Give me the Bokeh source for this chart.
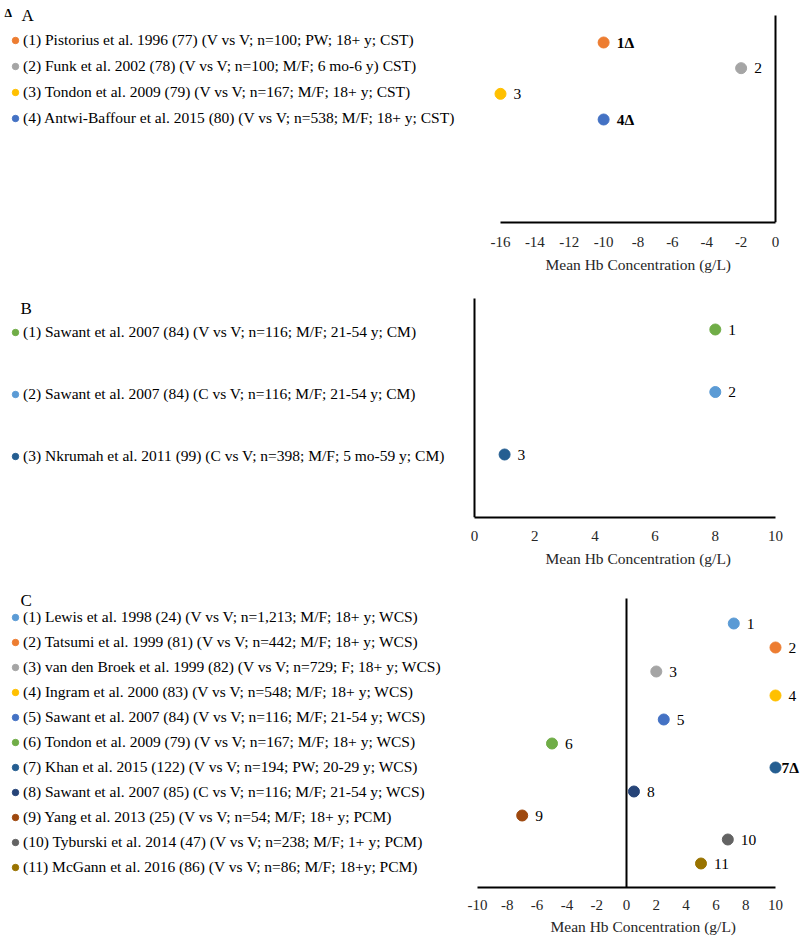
from bokeh.plotting import figure
from bokeh.models import (ColumnDataSource, Range1d, LinearAxis, Legend,
                          LegendItem, FixedTicker, Label, Title)
from bokeh.layouts import column
from bokeh.core.properties import value, field
from bokeh.embed import file_html
from bokeh.resources import INLINE

# ---------------- data ----------------
A_studies = [
    "(1) Pistorius et al. 1996 (77) (V vs V; n=100; PW; 18+ y; CST)",
    "(2) Funk et al. 2002 (78) (V vs V; n=100; M/F; 6 mo-6 y) CST)",
    "(3) Tondon et al. 2009 (79) (V vs V; n=167; M/F; 18+ y; CST)",
    "(4) Antwi-Baffour et al. 2015 (80) (V vs V; n=538; M/F; 18+ y; CST)",
]
A_values = [-10, -2, -16, -10]
A_labels = ["1Δ", "2", "3", "4Δ"]
A_colors = ["#ED7D31", "#A5A5A5", "#FFC000", "#4472C4"]
A_ticks = [-16, -14, -12, -10, -8, -6, -4, -2, 0]

B_studies = [
    "(1) Sawant et al. 2007 (84) (V vs V; n=116; M/F; 21-54 y; CM)",
    "(2) Sawant et al. 2007 (84) (C vs V; n=116; M/F; 21-54 y; CM)",
    "(3) Nkrumah et al. 2011 (99) (C vs V; n=398; M/F; 5 mo-59 y; CM)",
]
B_values = [8, 8, 1]
B_labels = ["1", "2", "3"]
B_colors = ["#70AD47", "#5B9BD5", "#255E91"]
B_ticks = [0, 2, 4, 6, 8, 10]

C_studies = [
    "(1) Lewis et al. 1998 (24) (V vs V; n=1,213; M/F; 18+ y; WCS)",
    "(2) Tatsumi et al. 1999 (81) (V vs V; n=442; M/F; 18+ y; WCS)",
    "(3) van den Broek et al. 1999 (82) (V vs V; n=729; F; 18+ y; WCS)",
    "(4) Ingram et al. 2000 (83) (V vs V; n=548; M/F; 18+ y; WCS)",
    "(5) Sawant et al. 2007 (84) (V vs V; n=116; M/F; 21-54 y; WCS)",
    "(6) Tondon et al. 2009 (79) (V vs V; n=167; M/F; 18+ y; WCS)",
    "(7) Khan et al. 2015 (122) (V vs V; n=194; PW; 20-29 y; WCS)",
    "(8) Sawant et al. 2007 (85) (C vs V; n=116; M/F; 21-54 y; WCS)",
    "(9) Yang et al. 2013 (25) (V vs V; n=54; M/F; 18+ y; PCM)",
    "(10) Tyburski et al. 2014 (47) (V vs V; n=238; M/F; 1+ y; PCM)",
    "(11) McGann et al. 2016 (86) (V vs V; n=86; M/F; 18+y; PCM)",
]
C_values = [7.2, 10, 2, 10, 2.5, -5, 10, 0.5, -7, 6.8, 5]
C_labels = ["1", "2", "3", "4", "5", "6", "7Δ", "8", "9", "10", "11"]
C_colors = ["#5B9BD5", "#ED7D31", "#A5A5A5", "#FFC000", "#4472C4", "#70AD47",
            "#255E91", "#264478", "#9E480E", "#636363", "#997300"]
C_ticks = [-10, -8, -6, -4, -2, 0, 2, 4, 6, 8, 10]

AXIS_TITLE = "Mean Hb Concentration (g/L)"
FONT = "Liberation Serif"
W = 800


def panel(studies, vals, labels, colors, ticks, xr, yr, vline_top, height,
          bottom, leg_loc, leg_spacing, major_standoff, title_standoff,
          title_offset, titles, edge_offset=13):
    rows = list(range(1, len(vals) + 1))
    styles = ["bold" if "Δ" in s else "normal" for s in labels]
    # a label squeezed against the right edge sits closer to its point
    dx = [edge_offset if (v == ticks[-1] and "Δ" in s) else 13
          for v, s in zip(vals, labels)]
    src = ColumnDataSource(dict(x=vals, y=rows, label=labels, color=colors,
                                style=styles, dx=dx))
    p = figure(width=W, height=height, x_range=Range1d(*xr),
               y_range=Range1d(*yr), output_backend="svg",
               toolbar_location=None, y_axis_location=None,
               min_border_left=0, min_border_right=0,
               min_border_top=0, min_border_bottom=bottom)
    p.outline_line_color = None
    p.grid.visible = False
    p.background_fill_color = "white"
    p.border_fill_color = "white"

    ax = p.xaxis[0]
    ax.bounds = (ticks[0], ticks[-1])
    ax.ticker = FixedTicker(ticks=ticks)
    ax.major_label_overrides = {t: str(t) for t in ticks}
    ax.minor_tick_line_color = None
    ax.major_tick_out = 0
    ax.major_tick_in = 0
    ax.axis_line_color = "black"
    ax.axis_line_width = 2
    ax.major_label_text_font = FONT
    ax.major_label_text_font_size = "15px"
    ax.major_label_text_color = "#262626"
    ax.major_label_standoff = major_standoff

    # axis title, centred under the plot area (not the whole canvas)
    p.add_layout(Title(text=AXIS_TITLE, align="left", offset=title_offset,
                       standoff=title_standoff, text_font=FONT,
                       text_font_size="15.5px", text_font_style="normal",
                       text_color="#262626"), "below")

    # vertical axis line at x = 0
    yax = LinearAxis(fixed_location=0, ticker=FixedTicker(ticks=[]),
                     bounds=(min(vline_top, yr[0]), max(vline_top, yr[0])),
                     axis_line_color="black", axis_line_width=2,
                     major_tick_line_color=None, minor_tick_line_color=None,
                     major_label_text_font_size="0px")
    p.add_layout(yax, "left")

    r = p.scatter(x="x", y="y", size=11, color="color", source=src)
    p.text(x="x", y="y", text="label", source=src, x_offset=field("dx"),
           text_baseline="middle", text_align="left",
           text_font=value(FONT), text_font_size=value("15.5px"),
           text_font_style=field("style"), text_color="black")

    items = [LegendItem(label=value(s), renderers=[r], index=i)
             for i, s in enumerate(studies)]
    leg = Legend(items=items, location=leg_loc, orientation="vertical",
                 padding=0, margin=0, spacing=leg_spacing,
                 glyph_height=20, glyph_width=16, label_height=20,
                 label_standoff=0, label_text_font=FONT,
                 label_text_font_size="15.5px", label_text_color="black",
                 border_line_color=None, background_fill_alpha=0)
    p.add_layout(leg)

    for (txt, x, y, size, style) in titles:
        p.add_layout(Label(x=x, y=y, x_units="screen", y_units="screen",
                           text=txt, text_font=FONT, text_font_size=size,
                           text_font_style=style, text_baseline="alphabetic",
                           text_color="black"))
    return p


# Panel A : frame y 0..222, line top 15, x: -16 -> 500, 0 -> 775
pa = panel(A_studies, A_values, A_labels, A_colors, A_ticks,
           xr=(-16 - 500 / 17.1875, 25 / 17.1875),
           yr=(1 + 180 / 25.67, 1 - 42 / 25.67),
           vline_top=1 - 27 / 25.67,
           height=283, bottom=61,
           leg_loc=(7, 94), leg_spacing=6,
           major_standoff=14, title_standoff=8, title_offset=545,
           titles=[("Δ", 4, 210, "12px", "bold"), ("A", 21, 207, "17px", "normal")])

# Panel B : frame y 283..517, line top 298, x: 0 -> 474, 10 -> 775
pb = panel(B_studies, B_values, B_labels, B_colors, B_ticks,
           xr=(-474 / 30.1, 10 + 25 / 30.1),
           yr=(1 + 188 / 62.5, 1 - 46 / 62.5),
           vline_top=1 - 31 / 62.5,
           height=295, bottom=61,
           leg_loc=(7, 51), leg_spacing=42,
           major_standoff=13, title_standoff=8, title_offset=545,
           titles=[("B", 20, 209, "17px", "normal")])

# Panel C : frame y 578..887, line top 598, x: -10 -> 477, 10 -> 775
pc = panel(C_studies, C_values, C_labels, C_colors, C_ticks,
           xr=(-10 - 477 / 14.9, 10 + 25 / 14.9),
           yr=(1 + 264 / 24.0, 1 - 45 / 24.0),
           vline_top=1 - 25 / 24.0,
           height=362, bottom=53,
           leg_loc=(7, 10), leg_spacing=5,
           major_standoff=12, title_standoff=6, title_offset=550,
           titles=[("C", 20, 287, "17px", "normal")],
           edge_offset=6)

layout = column(pa, pb, pc, spacing=0)
open("out.html", "w").write(file_html(layout, INLINE))
